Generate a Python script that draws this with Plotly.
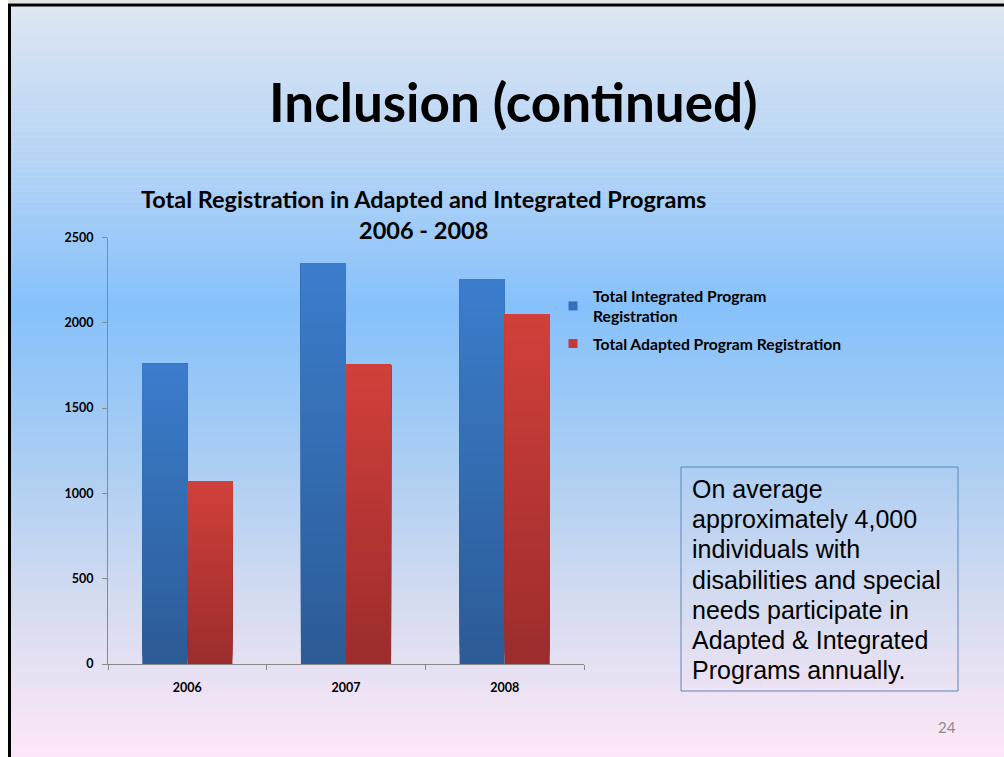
import plotly.graph_objects as go

# ---- data ----
years = ["2006", "2007", "2008"]
integrated = [1760, 2350, 2255]
adapted = [1070, 1755, 2050]
series_names = ["Total Integrated Program<br>Registration", "Total Adapted Program Registration"]
y_ticks = [0, 500, 1000, 1500, 2000, 2500]
note_lines = [
    "On average",
    "approximately 4,000",
    "individuals with",
    "disabilities and special",
    "needs participate in",
    "Adapted &amp; Integrated",
    "Programs annually.",
]

W, H = 1004, 757


def px(x):
    return x / W


def py(y):
    return 1 - y / H


def hex_to_rgb(h):
    h = h.lstrip("#")
    return tuple(int(h[i:i + 2], 16) for i in (0, 2, 4))


def mix(c1, c2, t):
    a, b = hex_to_rgb(c1), hex_to_rgb(c2)
    return "rgb(%d,%d,%d)" % tuple(round(a[k] + (b[k] - a[k]) * t) for k in range(3))


def ramp(stops, t):
    for (t0, c0), (t1, c1) in zip(stops, stops[1:]):
        if t <= t1:
            return mix(c0, c1, (t - t0) / (t1 - t0) if t1 > t0 else 0)
    return mix(stops[-1][1], stops[-1][1], 0)


fig = go.Figure()

# each bar is built from overlapping slices (every slice reaches the bar top,
# drawn bottom-up) so the fill fades from dark at the base to light at the top
N = 40
bar_w = 0.284
styles = [
    (integrated, "#2c5b95", "#3b7dcd", -bar_w),
    (adapted, "#9c2c2d", "#d1403a", 0.0),
]
for vals, c_bot, c_top, off in styles:
    for i in range(N):
        fig.add_trace(go.Bar(
            x=years,
            y=[v * (N - i) / N for v in vals],
            base=[v * i / N for v in vals],
            width=bar_w,
            offset=off,
            marker=dict(color=mix(c_bot, c_top, (i + 0.5) / N), line=dict(width=0)),
            showlegend=False,
            hoverinfo="skip",
        ))

# legend entries (small square keys)
for k, (name, color) in enumerate(zip(series_names, ["#3570bd", "#c4393a"])):
    fig.add_trace(go.Scatter(x=[None], y=[None], mode="markers", name=name, legendgroup="g%d" % k,
                             marker=dict(symbol="square", size=9, color=color, line=dict(width=0))))

# slide background gradient as thin horizontal strips
bg_stops = [(0.0, "#dde6f2"), (0.2, "#b6d4f6"), (0.40, "#86c1fb"), (0.60, "#a9cdf3"),
            (0.80, "#d5dcf0"), (1.0, "#fde7f6")]
shapes = []
strips = 150
top_px, bot_px = 6, H
for k in range(strips):
    y0 = top_px + (bot_px - top_px) * k / strips
    y1 = top_px + (bot_px - top_px) * (k + 1) / strips + 0.6
    shapes.append(dict(type="rect", xref="paper", yref="paper", layer="below",
                       x0=px(10), x1=1.0, y0=max(0.0, py(y1)), y1=py(y0),
                       fillcolor=ramp(bg_stops, k / (strips - 1)), line=dict(width=0)))
# slide frame
shapes.append(dict(type="rect", xref="paper", yref="paper", layer="below",
                   x0=px(8), x1=1.0, y0=py(3.5), y1=1.0, fillcolor="#e4e4e4", line=dict(width=0)))
shapes.append(dict(type="line", xref="paper", yref="paper", layer="above",
                   x0=px(8), x1=1.0, y0=py(5), y1=py(5), line=dict(color="black", width=3)))
shapes.append(dict(type="line", xref="paper", yref="paper", layer="above",
                   x0=px(9.5), x1=px(9.5), y0=0, y1=py(4), line=dict(color="black", width=3)))
# text box frame
shapes.append(dict(type="rect", xref="paper", yref="paper", layer="above",
                   x0=px(681), x1=px(958), y0=py(691), y1=py(467),
                   fillcolor="rgba(0,0,0,0)", line=dict(color="#5b86c0", width=1)))

calibri = "Lato, Carlito, Calibri, sans-serif"
annotations = [
    dict(text="<b>Inclusion (continued)</b>", x=px(513), y=py(101), xref="paper", yref="paper",
         showarrow=False, xanchor="center", yanchor="middle",
         font=dict(family=calibri, size=53, color="black")),
    dict(text="<b>Total Registration in Adapted and Integrated Programs<br>2006 - 2008</b>",
         x=px(423), y=py(214), xref="paper", yref="paper", showarrow=False,
         xanchor="center", yanchor="middle", align="center",
         font=dict(family=calibri, size=23.5, color="black")),
    dict(text="24", x=px(958), y=py(727), xref="paper", yref="paper", showarrow=False,
         xanchor="right", yanchor="middle",
         font=dict(family=calibri, size=15, color="#8c8c8c")),
]
for k, line in enumerate(note_lines):
    annotations.append(dict(text=line, x=px(690), y=py(489 + 30.2 * k), xref="paper", yref="paper",
                            showarrow=False, xanchor="left", yanchor="middle", align="left",
                            font=dict(family="Liberation Sans, Arial, sans-serif", size=25, color="black")))

fig.update_layout(
    width=W, height=H,
    margin=dict(l=0, r=0, t=0, b=0, autoexpand=False),
    paper_bgcolor="white",
    plot_bgcolor="rgba(0,0,0,0)",
    barmode="overlay",
    shapes=shapes,
    annotations=annotations,
    font=dict(family=calibri, color="black"),
    legend=dict(x=px(553), y=py(279), xanchor="left", yanchor="top", traceorder="grouped",
                bgcolor="rgba(0,0,0,0)", font=dict(family=calibri, size=15.7, color="black", weight="bold"),
                tracegroupgap=4, itemwidth=30),
    xaxis=dict(domain=[px(108), px(584)], type="category", categoryorder="array", categoryarray=years,
               showline=True, linecolor="#8a8a8a", linewidth=1, ticks="outside", tickson="boundaries",
               ticklen=5, tickcolor="#8a8a8a", showgrid=False, zeroline=False,
               tickfont=dict(family=calibri, size=12.5, color="black", weight="bold"),
               ticklabelstandoff=12, fixedrange=True),
    yaxis=dict(domain=[py(664), py(237.5)], range=[0, 2500], tickvals=y_ticks,
               showline=True, linecolor="#8a8a8a", linewidth=1, ticks="outside",
               ticklen=5, tickcolor="#8a8a8a", showgrid=False, zeroline=False,
               tickfont=dict(family=calibri, size=12.5, color="black", weight="bold"),
               ticklabelstandoff=6, fixedrange=True),
)

fig.write_html("out.html", config={"displayModeBar": False})
